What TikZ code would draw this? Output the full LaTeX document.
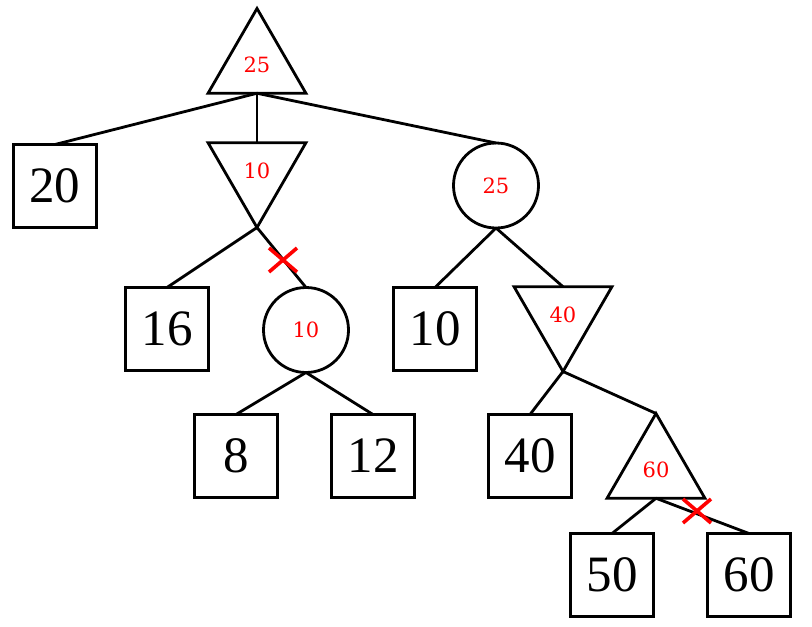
\documentclass[tikz,border=0pt]{standalone}
\usepackage{fontspec}
\setmainfont{Liberation Serif}
\newfontfamily\lblfont{DejaVu Serif}
\usetikzlibrary{shapes.geometric,calc}
\tikzset{
  sq/.style={draw, line width=2.8pt, minimum size=83pt, inner sep=0pt, outer sep=0pt,
    font=\fontsize{51}{55}\selectfont},
  cir/.style={draw, circle, line width=2.8pt, minimum size=85pt, inner sep=0pt, outer sep=0pt,
    text=red, font=\lblfont\fontsize{21}{25}\selectfont},
  tup/.style={draw, regular polygon, regular polygon sides=3, line width=2.8pt, minimum size=113pt,
    inner sep=0pt, outer sep=0pt, text=red, font=\lblfont\fontsize{21}{25}\selectfont},
  tdown/.style={tup, shape border rotate=180},
  edge/.style={line width=2.8pt},
  cross/.style={red, line width=3.6pt}
}
\begin{document}
\begin{tikzpicture}[x=1pt,y=-1pt]
\useasboundingbox (0,0) rectangle (812,627);
\node[tup] (t1) at (257,65) {25};
\node[sq] (s20) at (55,186) {20};
\node[tdown] (d10) at (257,171) {10};
\node[cir] (c25) at (496,185.5) {25};
\node[sq] (s16) at (167,329) {16};
\node[cir] (c10) at (306,330) {10};
\node[sq] (s10) at (435,329) {10};
\node[tdown] (d40) at (563,315) {40};
\node[sq] (s8) at (236,456) {8};
\node[sq] (s12) at (373,456) {12};
\node[sq] (s40) at (530,456) {40};
\node[tup] (t60) at (656,470) {60};
\node[sq] (s50) at (612,575) {50};
\node[sq] (s60) at (749,575) {60};

\draw[edge] (t1.south) -- (s20.north);
\draw[edge] (t1.south) -- (d10.north);
\draw[edge] (t1.south) -- (c25.north);
\draw[edge] (d10.south) -- (s16.north);
\draw[edge] (d10.south) -- (c10.north);
\draw[edge] (c25.south) -- (s10.north);
\draw[edge] (c25.south) -- (d40.north);
\draw[edge] (c10.south) -- (s8.north);
\draw[edge] (c10.south) -- (s12.north);
\draw[edge] (d40.south) -- (s40.north);
\draw[edge] (d40.south) -- (t60.north);
\draw[edge] (t60.south) -- (s50.north);
\draw[edge] (t60.south) -- (s60.north);

\coordinate (x1) at (283,260);
\coordinate (x2) at (697,511);
\draw[cross] ($(x1)+(-14,-12)$) -- ($(x1)+(14,12)$);
\draw[cross] ($(x1)+(-14,12)$) -- ($(x1)+(14,-12)$);
\draw[cross] ($(x2)+(-14,-12)$) -- ($(x2)+(14,12)$);
\draw[cross] ($(x2)+(-14,12)$) -- ($(x2)+(14,-12)$);
\end{tikzpicture}
\end{document}
